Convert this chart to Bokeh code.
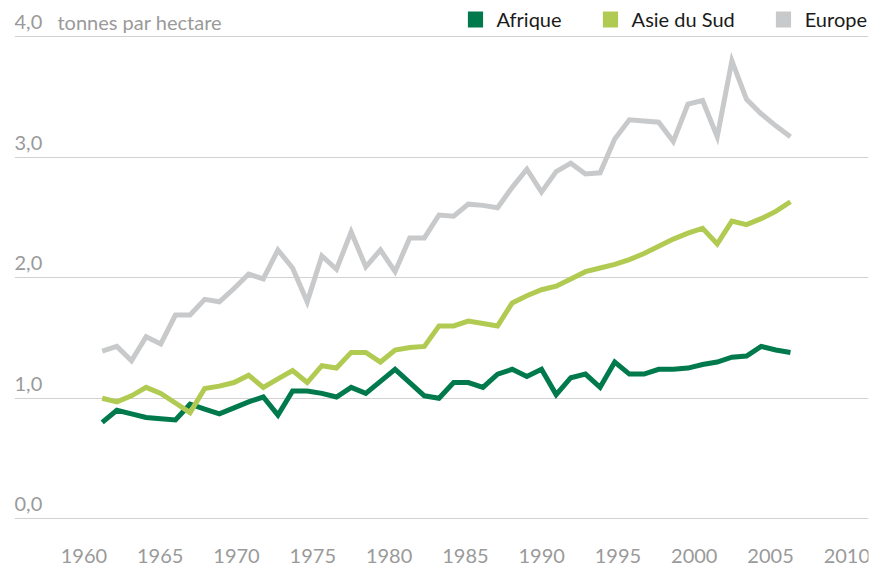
from bokeh.plotting import figure
from bokeh.models import Range1d, FixedTicker, Legend, LegendItem, Grid
from bokeh.core.properties import value
from bokeh.embed import file_html
from bokeh.resources import INLINE

# ---------------- data ----------------
years = list(range(1961, 2009))

afrique = [0.80, 0.90, 0.87, 0.84, 0.83, 0.82, 0.95, 0.91, 0.87, 0.92,
           0.97, 1.01, 0.86, 1.06, 1.06, 1.04, 1.01, 1.09, 1.04, 1.14,
           1.24, 1.13, 1.02, 1.00, 1.13, 1.13, 1.09, 1.20, 1.24, 1.18,
           1.24, 1.03, 1.17, 1.20, 1.09, 1.30, 1.20, 1.20, 1.24, 1.24,
           1.25, 1.28, 1.30, 1.34, 1.35, 1.43, 1.40, 1.38]

asie_du_sud = [1.00, 0.97, 1.02, 1.09, 1.04, 0.96, 0.88, 1.08, 1.10, 1.13,
               1.19, 1.09, 1.16, 1.23, 1.13, 1.27, 1.25, 1.38, 1.38, 1.30,
               1.40, 1.42, 1.43, 1.60, 1.60, 1.64, 1.62, 1.60, 1.79, 1.85,
               1.90, 1.93, 1.99, 2.05, 2.08, 2.11, 2.15, 2.20, 2.26, 2.32,
               2.37, 2.41, 2.28, 2.47, 2.44, 2.49, 2.55, 2.63]

europe = [1.39, 1.43, 1.31, 1.51, 1.45, 1.69, 1.69, 1.82, 1.80, 1.91,
          2.03, 1.99, 2.23, 2.08, 1.80, 2.18, 2.07, 2.38, 2.09, 2.23,
          2.05, 2.33, 2.33, 2.52, 2.51, 2.61, 2.60, 2.58, 2.75, 2.90,
          2.71, 2.88, 2.95, 2.86, 2.87, 3.15, 3.31, 3.30, 3.29, 3.13,
          3.44, 3.47, 3.17, 3.80, 3.48, 3.36, 3.26, 3.17]

series_names = ["Afrique", "Asie du Sud", "Europe"]
series_values = [afrique, asie_du_sud, europe]
series_colors = ["#007A4D", "#B1CB52", "#C8C9CB"]

y_ticks = [0, 1, 2, 3, 4]
y_tick_labels = ["0,0", "1,0", "2,0", "3,0", "4,0"]
x_ticks = [1960, 1965, 1970, 1975, 1980, 1985, 1990, 1995, 2000, 2005, 2010]
x_tick_labels = [str(t) for t in x_ticks]
unit_label = "tonnes par hectare"

# ---------------- styling ----------------
FONT = "Lato"
GREY_TEXT = "#9A9A9A"
GRID = "#D2D2D2"

TICK_START, TICK_END = 1955.45, 2011.42

p = figure(width=882, height=568, output_backend="svg", toolbar_location=None,
           x_range=Range1d(1955.01, 2013.33), y_range=Range1d(-0.413, 4.300),
           x_axis_location=None, y_axis_location=None,
           min_border_left=14, min_border_right=14, min_border_top=0, min_border_bottom=0)
p.extra_x_ranges = {"ticks": Range1d(TICK_START, TICK_END)}
p.outline_line_color = None
p.background_fill_color = "white"
p.border_fill_color = "white"
for g in p.grid:
    g.visible = False

grid = Grid(dimension=1, ticker=FixedTicker(ticks=y_ticks),
            grid_line_color=GRID, grid_line_width=1)
p.add_layout(grid)

for vals, col in zip(series_values, series_colors):
    p.line(years, vals, line_color=col, line_width=5, line_join="miter")

# y tick labels above gridlines
p.text(x=[TICK_START] * len(y_ticks), y=y_ticks, text=y_tick_labels,
       x_range_name="ticks", text_font=value(FONT), text_font_size="20px",
       text_color=GREY_TEXT, text_align="left", text_baseline="middle",
       y_offset=-14.5)
p.text(x=[TICK_START], y=[y_ticks[-1]], text=[unit_label],
       x_range_name="ticks", text_font=value(FONT), text_font_size="20px",
       text_color=GREY_TEXT, text_align="left", text_baseline="middle",
       x_offset=43, y_offset=-14.5)

# x tick labels
p.text(x=x_ticks, y=[y_ticks[0]] * len(x_ticks), text=x_tick_labels,
       x_range_name="ticks", text_font=value(FONT), text_font_size="20px",
       text_color=GREY_TEXT, text_align="center", text_baseline="middle",
       y_offset=37.5)

# legend with square swatches (area glyphs without visible data)
nan = float("nan")
swatches = [p.quad(left=[nan], right=[nan], top=[nan], bottom=[nan],
                   fill_color=c, line_color=None) for c in series_colors]
legend = Legend(items=[LegendItem(label=n, renderers=[r]) for n, r in zip(series_names, swatches)],
                orientation="horizontal", location="top_right", margin=1, padding=0,
                spacing=39, glyph_width=19, glyph_height=20, label_standoff=12,
                label_height=36,
                label_text_font=FONT, label_text_font_size="20px",
                label_text_color="#1A1A1A", border_line_color=None,
                background_fill_alpha=0)
p.add_layout(legend)

open("out.html", "w").write(file_html(p, INLINE))
